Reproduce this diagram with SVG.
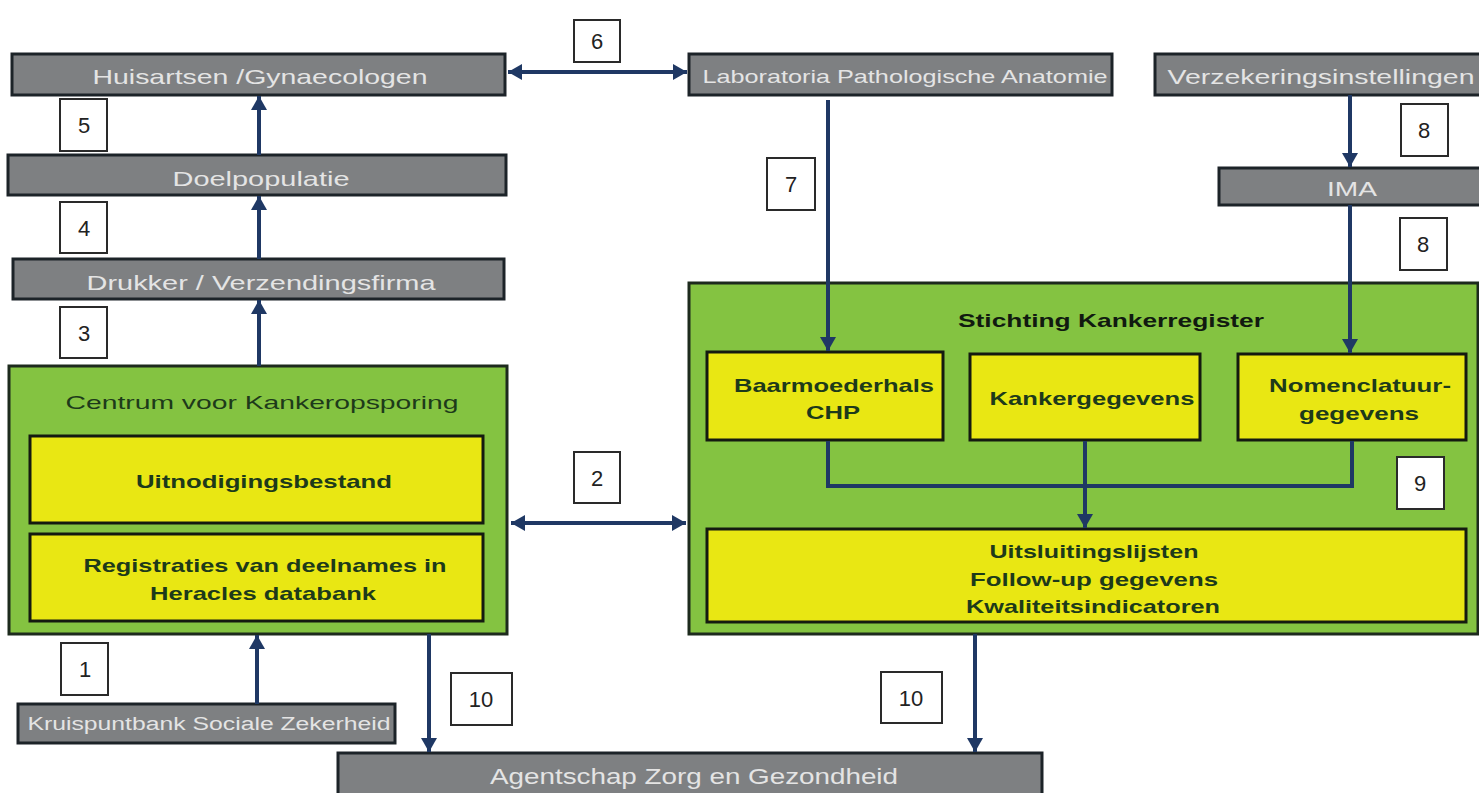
<svg xmlns="http://www.w3.org/2000/svg" width="1479" height="793" viewBox="0 0 1479 793">
<style>
.gray{fill:#7e8082;stroke:#1c2328;stroke-width:3}
.green{fill:#84c341;stroke:#1d2a1d;stroke-width:3}
.yellow{fill:#e9e713;stroke:#141a10;stroke-width:3}
.lbl{fill:#ffffff;stroke:#2a2a2a;stroke-width:2}
.gt{font-family:"Liberation Sans",Arial,sans-serif;fill:#e4e4e4;text-anchor:middle;dominant-baseline:central}
.yt{font-family:"Liberation Sans",Arial,sans-serif;font-weight:bold;fill:#1d3a1a;text-anchor:middle;dominant-baseline:central;font-size:19px}
.nt{font-family:"Liberation Sans",Arial,sans-serif;fill:#222;text-anchor:middle;dominant-baseline:central;font-size:22px}
.conn{stroke:#1f3864;stroke-width:4;fill:none}
</style>
<defs>
<marker id="ah" markerUnits="userSpaceOnUse" markerWidth="16" markerHeight="16" refX="14" refY="8" orient="auto-start-reverse">
<path d="M0,0 L14,8 L0,16 z" fill="#1f3864"/>
</marker>
</defs>
<rect width="1479" height="793" fill="#ffffff"/>

<g id="huisartsen"><rect class="gray" x="12" y="54" width="493" height="41"/><text class="gt" x="260" y="76" font-size="21" textLength="335" lengthAdjust="spacingAndGlyphs">Huisartsen /Gynaecologen</text></g>
<g id="doelpopulatie"><rect class="gray" x="8" y="155" width="498" height="40"/><text class="gt" x="261" y="178" font-size="21" textLength="177" lengthAdjust="spacingAndGlyphs">Doelpopulatie</text></g>
<g id="drukker"><rect class="gray" x="13" y="259" width="491" height="40"/><text class="gt" x="261" y="282" font-size="21" textLength="349" lengthAdjust="spacingAndGlyphs">Drukker / Verzendingsfirma</text></g>
<g id="laboratoria"><rect class="gray" x="689" y="54" width="423" height="41"/><text class="gt" x="905" y="76" font-size="19" textLength="405" lengthAdjust="spacingAndGlyphs">Laboratoria Pathologische Anatomie</text></g>
<g id="verzekering"><rect class="gray" x="1155" y="54" width="330" height="41"/><text class="gt" x="1321" y="76" font-size="21" textLength="307" lengthAdjust="spacingAndGlyphs">Verzekeringsinstellingen</text></g>
<g id="ima"><rect class="gray" x="1219" y="168" width="266" height="37"/><text class="gt" x="1352" y="188" font-size="21" textLength="50" lengthAdjust="spacingAndGlyphs">IMA</text></g>

<g id="centrum"><rect class="green" x="9" y="366" width="498" height="268"/><text class="yt" x="262" y="402" font-weight="normal" font-size="21" textLength="393" lengthAdjust="spacingAndGlyphs" style="font-weight:normal">Centrum voor Kankeropsporing</text></g>
<g id="uitnodiging"><rect class="yellow" x="30" y="436" width="453" height="87"/><text class="yt" x="264" y="481" textLength="256" lengthAdjust="spacingAndGlyphs">Uitnodigingsbestand</text></g>
<g id="registraties"><rect class="yellow" x="30" y="534" width="453" height="87"/><text class="yt" x="265" y="565" textLength="363" lengthAdjust="spacingAndGlyphs">Registraties van deelnames in</text><text class="yt" x="263" y="593" textLength="226" lengthAdjust="spacingAndGlyphs">Heracles databank</text></g>

<g id="stichting"><rect class="green" x="689" y="283" width="789" height="351"/><text class="yt" x="1111" y="320" font-size="21" textLength="306" lengthAdjust="spacingAndGlyphs" style="fill:#111a10">Stichting Kankerregister</text></g>
<g id="baarmoederhals"><rect class="yellow" x="707" y="352" width="236" height="88"/><text class="yt" x="834" y="385" textLength="200" lengthAdjust="spacingAndGlyphs">Baarmoederhals</text><text class="yt" x="833" y="412" textLength="54" lengthAdjust="spacingAndGlyphs">CHP</text></g>
<g id="kankergegevens"><rect class="yellow" x="970" y="354" width="230" height="86"/><text class="yt" x="1092" y="398" textLength="205" lengthAdjust="spacingAndGlyphs">Kankergegevens</text></g>
<g id="nomenclatuur"><rect class="yellow" x="1238" y="354" width="228" height="86"/><text class="yt" x="1360" y="385" textLength="182" lengthAdjust="spacingAndGlyphs">Nomenclatuur-</text><text class="yt" x="1359" y="413" textLength="120" lengthAdjust="spacingAndGlyphs">gegevens</text></g>
<g id="uitsluiting"><rect class="yellow" x="707" y="529" width="759" height="93"/><text class="yt" x="1094" y="551" textLength="209" lengthAdjust="spacingAndGlyphs">Uitsluitingslijsten</text><text class="yt" x="1094" y="579" textLength="248" lengthAdjust="spacingAndGlyphs">Follow-up gegevens</text><text class="yt" x="1093" y="606" textLength="254" lengthAdjust="spacingAndGlyphs">Kwaliteitsindicatoren</text></g>

<g id="kruispuntbank"><rect class="gray" x="18" y="704" width="377" height="39"/><text class="gt" x="209" y="724" font-size="18" textLength="363" lengthAdjust="spacingAndGlyphs">Kruispuntbank Sociale Zekerheid</text></g>
<g id="agentschap"><rect class="gray" x="338" y="753" width="704" height="45"/><text class="gt" x="694" y="776" font-size="22" textLength="408" lengthAdjust="spacingAndGlyphs">Agentschap Zorg en Gezondheid</text></g>

<g id="labels">
<g id="l1"><rect class="lbl" x="61" y="643" width="47" height="52"/><text class="nt" x="85" y="669">1</text></g>
<g id="l2"><rect class="lbl" x="574" y="452" width="46" height="51"/><text class="nt" x="597" y="478">2</text></g>
<g id="l3"><rect class="lbl" x="60" y="307" width="47" height="51"/><text class="nt" x="84" y="333">3</text></g>
<g id="l4"><rect class="lbl" x="60" y="202" width="47" height="51"/><text class="nt" x="84" y="228">4</text></g>
<g id="l5"><rect class="lbl" x="60" y="99" width="47" height="52"/><text class="nt" x="84" y="125">5</text></g>
<g id="l6"><rect class="lbl" x="574" y="20" width="46" height="42"/><text class="nt" x="597" y="41">6</text></g>
<g id="l7"><rect class="lbl" x="767" y="158" width="48" height="52"/><text class="nt" x="791" y="184">7</text></g>
<g id="l8a"><rect class="lbl" x="1401" y="104" width="47" height="52"/><text class="nt" x="1424" y="130">8</text></g>
<g id="l8b"><rect class="lbl" x="1400" y="218" width="47" height="52"/><text class="nt" x="1423" y="244">8</text></g>
<g id="l9"><rect class="lbl" x="1397" y="457" width="47" height="52"/><text class="nt" x="1420" y="483">9</text></g>
<g id="l10a"><rect class="lbl" x="451" y="673" width="61" height="52"/><text class="nt" x="481" y="699">10</text></g>
<g id="l10b"><rect class="lbl" x="881" y="672" width="61" height="51"/><text class="nt" x="911" y="698">10</text></g>
</g>

<g id="connectors">
<line class="conn" x1="508" y1="72" x2="687" y2="72" marker-start="url(#ah)" marker-end="url(#ah)"/>
<line class="conn" x1="511" y1="523" x2="686" y2="523" marker-start="url(#ah)" marker-end="url(#ah)"/>
<line class="conn" x1="259" y1="155" x2="259" y2="96" marker-end="url(#ah)"/>
<line class="conn" x1="259" y1="259" x2="259" y2="196" marker-end="url(#ah)"/>
<line class="conn" x1="259" y1="366" x2="259" y2="300" marker-end="url(#ah)"/>
<line class="conn" x1="257" y1="704" x2="257" y2="635" marker-end="url(#ah)"/>
<line class="conn" x1="429" y1="634" x2="429" y2="752" marker-end="url(#ah)"/>
<line class="conn" x1="975" y1="634" x2="975" y2="752" marker-end="url(#ah)"/>
<line class="conn" x1="828" y1="100" x2="828" y2="351" marker-end="url(#ah)"/>
<line class="conn" x1="1350" y1="95" x2="1350" y2="167" marker-end="url(#ah)"/>
<line class="conn" x1="1350" y1="205" x2="1350" y2="353" marker-end="url(#ah)"/>
<polyline class="conn" points="828,441 828,486 1352,486 1352,441"/>
<line class="conn" x1="1085" y1="441" x2="1085" y2="528" marker-end="url(#ah)"/>
</g>
</svg>
